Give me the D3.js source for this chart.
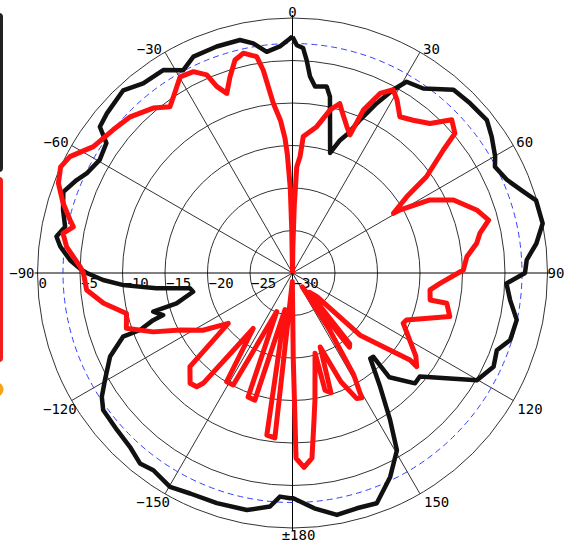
<!DOCTYPE html>
<html>
<head>
<meta charset="utf-8">
<script src="https://cdn.jsdelivr.net/npm/d3@7/dist/d3.min.js"></script>
<style>
  body { margin: 0; background: #fff; }
  svg { display: block; }
  text { font-family: "DejaVu Sans Mono", monospace; font-size: 14px; fill: #000; }
</style>
</head>
<body>
<svg id="chart" width="565" height="544"></svg>
<script>
// azimuth (deg, 0 = top, clockwise) and gain (dB) of each pattern trace
const blackAngles = [0, 1.1, 2.7, 3.3, 3.8, 5.1, 6.9, 10.4, 12.0, 13.8, 17.4, 19.7, 21.8, 23.8, 26.4, 28.8, 30.8, 35.3, 41.3, 46.3,
  51.8, 55.6, 60.1, 62.3, 66.5, 70.6, 73.4, 78.8, 83.1, 86.8, 90, 92.8, 97.1, 101.8, 107.1, 110.7, 115, 120.2, 123.8, 129.1,
  132, 137.1, 136, 137.7, 142.4, 146.4, 149.5, 154.4, 159.9, 164.7, 169.6, 174.7, 179.8, -179.4, -176.8, -174.5, -169.1, -161.8, -155.1, -150.2,
  -144.8, -141.3, -136.9, -131.8, -125.9, -123, -119.7, -114.6, -110.6, -110.5, -108.7, -108, -105.5, -104.7, -100.7, -98.5, -96.4, -94.1, -92.1, -90,
  -89.2, -86.7, -83.5, -81.2, -78.5, -74.6, -70.5, -66.7, -64.2, -59.6, -55.1, -52.8, -49.3, -42.8, -38.2, -32.5, -28.3, -24.6, -18.5, -12.7,
  -9.7, -6.65, -3.2, -0.6, 0];
const blackGain = [-2.2, -3.2, -3.5, -4.3, -4.9, -6.8, -7.9, -7.7, -8.8, -11.5, -15.2, -13.4, -12.3, -10.3, -7.7, -5.4, -3.8, -3.4, -1.3, -1.1,
  -0.9, -1.6, -2.5, -3.1, -2.5, -1.2, -0.1, 0, -1.1, -2.4, -2.65, -4.8, -4.2, -3.05, -3.2, -4.3, -3.9, -4.9, -7.7, -10.7,
  -10.6, -13.25, -16.3, -16.4, -13.1, -9.25, -5.8, -3.4, -1.15, -1.3, -1.06, -2.2, -3.5, -3.5, -3.65, -2.4, -1.6, -1.5, -1.4, -1.0,
  -1.6, -1.3, -2.0, -2.3, -2.5, -3.25, -4.6, -6.4, -8.7, -10.85, -12.7, -14.0, -13.0, -15.9, -18.1, -17.8, -13.9, -10.05, -7.7, -5.8,
  -5.2, -3.8, -2.5, -1.9, -2.7, -2.0, -1.4, -2.35, -3.1, -3.7, -3.3, -1.55, -1.2, -0.7, -1.6, -1.7, -2.9, -2.0, -1.9, -1.9,
  -2.6, -3.8, -3.3, -2.4, -2.2];

const redAngles = [0, -1, -1.5, -2.5, -3.2, -4.5, -6.45, -8.2, -9.4, -12.6, -15.1, -17.7, -20.1, -22.1, -23.4, -26.2, -29.8, -33.2, -36.4, -40.2,
  -46.1, -51.4, -57.6, -62.4, -65.4, -69, -73.1, -76.6, -78.1, -80.2, -83.4, -88.3, -90, -94.7, -99.1, -103.7, -108.4, -112.9, -116.9, -122.6,
  -128.1, -132.4, -137.1, -139.9, -141.0, -144.7, -148.8, -152.1, -157.8, -160.3, -163.5, -168.5, -171, -173.9, -179, 179.5, 178.9, 176.6, 174.0, 172,
  170, 164.3, 164.5, 162.2, 159.5, 156, 152.9, 151, 149, 147, 145, 142.5, 141, 139, 134, 132.6, 126.5, 127, 124, 114.4,
  112.4, 105.5, 101.1, 101.1, 97, 94, 89, 84.7, 80.8, 78, 74.9, 71.1, 65.6, 62, 59.6, 59.4, 56.3, 54.3, 50.8, 49.3,
  46.1, 42.6, 38.3, 34.5, 31.1, 28.8, 26, 23.5, 22.6, 20.3, 16.8, 15.6, 13, 9.4, 4.5, 3.7, 2.3, 1.5, 0.8, 0];
const redGain = [-30, -25, -20, -16, -14.1, -12, -9.9, -5.9, -4.2, -3.5, -4.05, -5.8, -7.5, -6.3, -4.6, -3.6, -3.4, -4.7, -5.7, -4.6,
  -3.5, -3.0, -2.25, -0.45, 0, -0.5, -1.8, -3.1, -3.65, -2.6, -3.25, -5.0, -5.4, -5.7, -7.5, -9.9, -9.4, -12.2, -15.2, -17.5,
  -20.4, -13.66, -12.3, -12.5, -13.3, -22.0, -15.05, -15.1, -25.1, -14.5, -14.4, -25.6, -10.7, -10.5, -29, -20, -8.2, -7.1, -8.1, -12,
  -14.8, -20.2, -15.7, -15.2, -20.7, -16, -13.4, -13.2, -16, -22, -28, -19, -19.3, -27, -26, -19.2, -12.8, -11.7, -12.5, -15.7,
  -15.5, -10.8, -11.5, -13.5, -13.7, -12.6, -9.9, -9.4, -8.05, -7.45, -6.1, -7.1, -9.2, -11.7, -15.3, -16.2, -13.85, -10.6, -7.1, -4.8,
  -4.0, -6.1, -7.1, -7.7, -6.2, -5.4, -6.5, -9.1, -12.4, -11.6, -10.0, -9.3, -10.3, -12.55, -13.9, -16.3, -17.5, -22, -27, -30];

const ringValues = [0, -5, -10, -15, -20, -25, -30];
const ringLabels = ['0', '−5', '−10', '−15', '−20', '−25', '−30'];
const angleTicks = [0, 30, 60, 90, 120, 150, 180, -150, -120, -90, -60, -30];
const angleLabels = ['0', '30', '60', '90', '120', '150', '±180', '−150', '−120', '−90', '−60', '−30'];
const refLevel = -3;

const cx = 292.5, cy = 273, outerR = 255;

const svg = d3.select('#chart');

const rScale = d3.scaleLinear().domain([-30, 0]).range([0, outerR]);
const rad = d => d * Math.PI / 180;

// cropped legend swatches on the left edge
svg.append('rect').attr('x', -7).attr('y', 13).attr('width', 10).attr('height', 159).attr('rx', 4).attr('fill', '#222');
svg.append('rect').attr('x', -7).attr('y', 177).attr('width', 10).attr('height', 185).attr('rx', 4).attr('fill', '#f21c1c');
svg.append('circle').attr('cx', -4).attr('cy', 389.5).attr('r', 7.5).attr('fill', '#f7a21b');

const g = svg.append('g').attr('transform', `translate(${cx},${cy})`);

// rings
g.selectAll('circle.ring')
  .data(ringValues.filter(v => v > -30))
  .enter()
  .append('circle')
  .attr('class', 'ring')
  .attr('r', d => rScale(d))
  .attr('fill', 'none')
  .attr('stroke', '#333')
  .attr('stroke-width', 1);

// spokes
g.selectAll('line.spoke')
  .data(d3.range(0, 180, 30))
  .enter()
  .append('line')
  .attr('class', 'spoke')
  .attr('x1', d => Math.sin(rad(d)) * (d % 90 === 0 ? outerR + 3 : outerR))
  .attr('y1', d => -Math.cos(rad(d)) * (d % 90 === 0 ? outerR + 3 : outerR))
  .attr('x2', d => -Math.sin(rad(d)) * (d % 90 === 0 ? outerR + 3 : outerR))
  .attr('y2', d => Math.cos(rad(d)) * (d % 90 === 0 ? outerR + 3 : outerR))
  .attr('stroke', d => d % 90 === 0 ? '#000' : '#333')
  .attr('stroke-width', 1);

// -3 dB reference circle
g.append('circle')
  .attr('r', rScale(refLevel))
  .attr('fill', 'none')
  .attr('stroke', '#3340ff')
  .attr('stroke-width', 1)
  .attr('stroke-dasharray', '6,4');

// ring labels along the -90 spoke
g.selectAll('text.ring')
  .data(ringValues)
  .enter()
  .append('text')
  .attr('class', 'ring')
  .attr('x', d => -rScale(d) + 1)
  .attr('y', 15)
  .text((d, i) => ringLabels[i]);

// angle labels
g.selectAll('text.angle')
  .data(angleTicks)
  .enter()
  .append('text')
  .attr('class', 'angle')
  .each(function (a, i) {
    const px = Math.sin(rad(a)) * outerR;
    const py = -Math.cos(rad(a)) * outerR;
    const c = Math.cos(rad(a));
    let x = px, y = py, anchor = 'middle';
    if (a === 0) { y = py - 1; }
    else if (a === 180) { x = px + 6; y = py + 12; }
    else if (a === 90) { anchor = 'start'; x = px; y = py + 5; }
    else {
      y = c > 0.1 ? py + 1.5 : (c < -0.1 ? py + 13 : py + 5);
      if (a > 0) { anchor = 'start'; x = c < -0.1 ? px + 4 : px + 3; }
      else { anchor = 'end'; x = c < -0.1 ? px + 5 : px - 3; }
    }
    d3.select(this).attr('x', x).attr('y', y).attr('text-anchor', anchor).text(angleLabels[i]);
  });

const radial = d3.lineRadial()
  .angle(d => rad(d[0]))
  .radius(d => rScale(d[1]))
  .curve(d3.curveLinear);

g.append('path')
  .datum(blackAngles.map((a, i) => [a, blackGain[i]]))
  .attr('d', radial)
  .attr('fill', 'none')
  .attr('stroke', '#111')
  .attr('stroke-width', 4.5)
  .attr('stroke-linejoin', 'round');

g.append('path')
  .datum(redAngles.map((a, i) => [a, redGain[i]]))
  .attr('d', radial)
  .attr('fill', 'none')
  .attr('stroke', '#ff1010')
  .attr('stroke-width', 5)
  .attr('stroke-linejoin', 'round');
</script>
</body>
</html>
